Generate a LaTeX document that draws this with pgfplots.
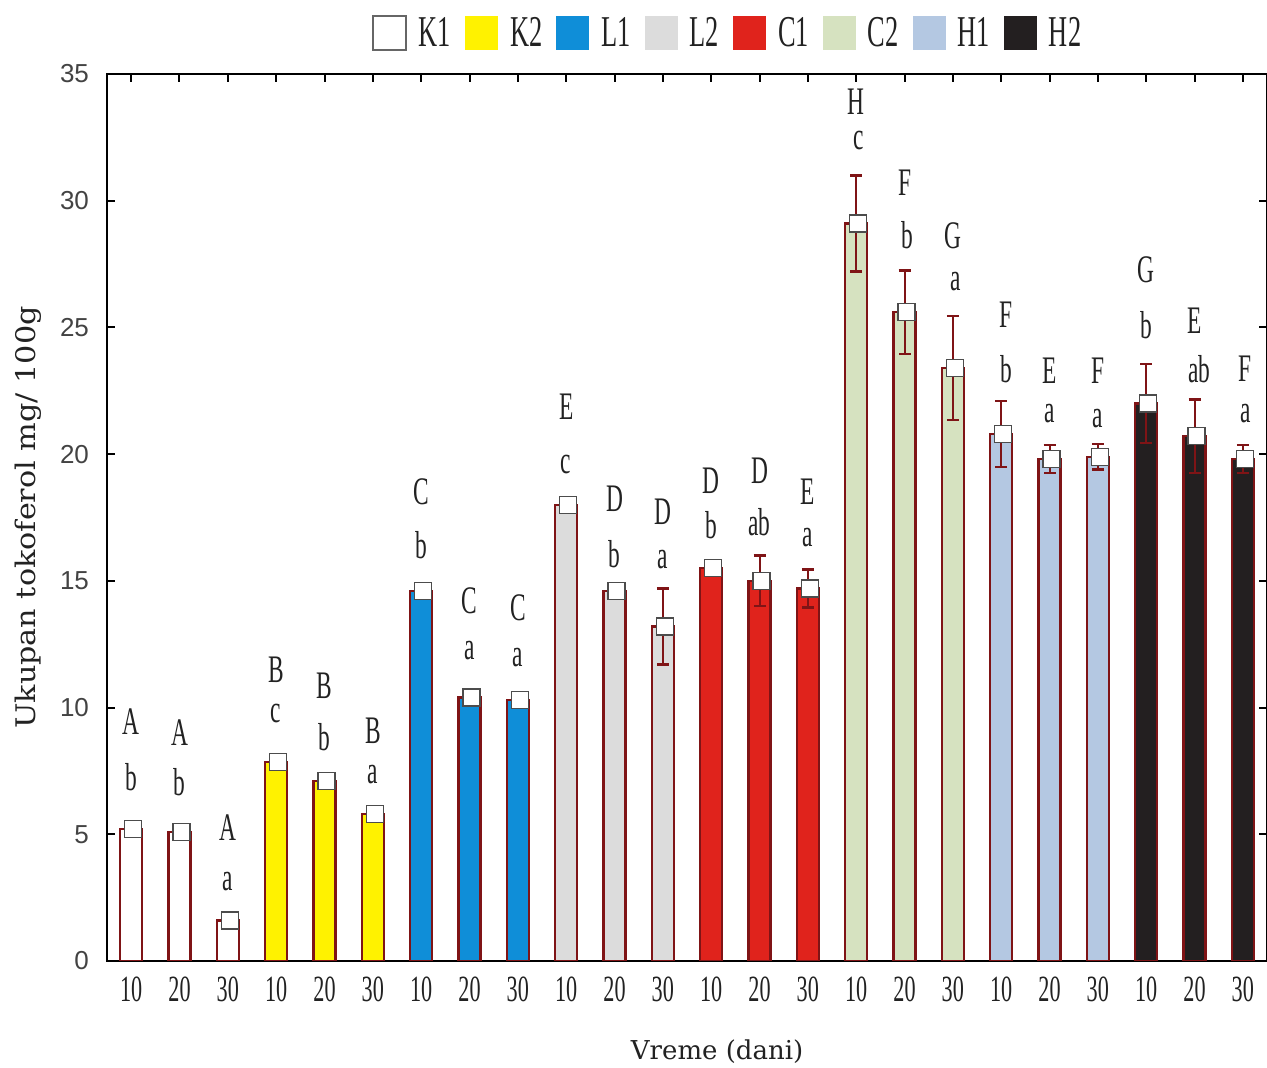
\documentclass[border=0pt]{standalone}
\usepackage{pgfplots}
\pgfplotsset{compat=1.18}
\usepackage{fontspec}
\setmainfont{Liberation Serif}
\newfontfamily\cond[FakeStretch=0.6]{Liberation Serif}
\newfontfamily\labfont{DejaVu Serif}
\newfontfamily\ylabfont[FakeStretch=1.12]{DejaVu Serif}
\newfontfamily\yfont{Liberation Sans}
\definecolor{bord}{HTML}{7F1416}
\definecolor{cK2}{HTML}{FFF200}
\definecolor{cL1}{HTML}{0F8ED8}
\definecolor{cL2}{HTML}{DCDCDC}
\definecolor{cC1}{HTML}{E0231C}
\definecolor{cC2}{HTML}{D6E2C0}
\definecolor{cH1}{HTML}{B4C8E2}
\definecolor{cH2}{HTML}{231F20}
\definecolor{txt}{HTML}{222222}
\pgfplotsset{
  legbox/.style={legend image code/.code={\path[draw=none, fill=#1] (0pt,-8.5pt) rectangle (16.5pt,8.5pt);}},
  barst/.style={ybar, bar width=11pt, bar shift=0pt, draw=bord, line width=1.1pt, fill=#1},
}
\tikzset{lab/.style={font={\cond\fontsize{19.5pt}{20pt}\selectfont}, text=txt, inner sep=0pt}}
\begin{document}
\begin{tikzpicture}
\begin{axis}[
  scale only axis, width=580pt, height=443.5pt,
  xmin=-0.5, xmax=23.5, ymin=0, ymax=35,
  axis line style={line width=1pt},
  tick align=inside, tick style={black, line width=1pt},
  major tick length=4pt,
  xtick={0,...,23},
  xticklabels={10,20,30,10,20,30,10,20,30,10,20,30,10,20,30,10,20,30,10,20,30,10,20,30},
  ytick={0,5,...,35},
  xticklabel style={font={\cond\fontsize{18.5pt}{19pt}\selectfont}, text=txt, yshift=-4.5pt},
  yticklabel style={font={\yfont\fontsize{13pt}{14pt}\selectfont}, text=txt!85, xshift=-5.5pt},
  /pgf/number format/assume math mode=true,
  xlabel={Vreme (dani)},
  ylabel={Ukupan tokoferol mg/ 100g},
  every axis x label/.style={at={(rel axis cs:0.526,0)}, yshift=-45.5pt, anchor=center, font={\labfont\fontsize{13pt}{14pt}\selectfont}, text=txt},
  every axis y label/.style={at={(rel axis cs:0,0.5)}, xshift=-39.5pt, rotate=90, anchor=center, font={\ylabfont\fontsize{13.5pt}{14pt}\selectfont}, text=txt},
  legend columns=-1,
  legend style={at={(0.536,1.046)}, anchor=center, draw=none, fill=none,
    font={\cond\fontsize{22pt}{23pt}\selectfont}, text=txt,
    /tikz/every even column/.append style={column sep=5pt},
    /tikz/every odd column/.append style={column sep=4pt}},
]
\addplot[barst=white, legend image code/.code={\draw[black!60, line width=0.8pt, fill=white] (0pt,-8.5pt) rectangle (16.5pt,8.5pt);}] coordinates {(0,5.2) (1,5.1) (2,1.6)};
\addlegendentry{K1}
\addplot[barst=cK2, legbox=cK2] coordinates {(3,7.85) (4,7.1) (5,5.8)};
\addlegendentry{K2}
\addplot[barst=cL1, legbox=cL1] coordinates {(6,14.6) (7,10.4) (8,10.3)};
\addlegendentry{L1}
\addplot[barst=cL2, legbox=cL2] coordinates {(9,18.0) (10,14.6) (11,13.2)};
\addlegendentry{L2}
\addplot[barst=cC1, legbox=cC1] coordinates {(12,15.5) (13,15.0) (14,14.7)};
\addlegendentry{C1}
\addplot[barst=cC2, legbox=cC2] coordinates {(15,29.1) (16,25.6) (17,23.4)};
\addlegendentry{C2}
\addplot[barst=cH1, legbox=cH1] coordinates {(18,20.8) (19,19.8) (20,19.9)};
\addlegendentry{H1}
\addplot[barst=cH2, legbox=cH2] coordinates {(21,22.0) (22,20.7) (23,19.8)};
\addlegendentry{H2}
\addplot[only marks, mark=square*, mark size=4.25pt,
  mark options={fill=white, draw=black!70, line width=0.6pt, xshift=1pt},
  forget plot,
  error bars/.cd, y dir=both, y explicit,
  error bar style={bord, line width=1pt},
  error mark options={rotate=90, bord, line width=1.2pt, mark size=3pt}]
  table[x=x, y=y, y error=e] {
x y e
0 5.2 0.3
1 5.1 0.15
2 1.6 0.1
3 7.85 0.2
4 7.1 0.15
5 5.8 0.05
6 14.6 0.1
7 10.4 0.1
8 10.3 0.2
9 18.0 0.1
10 14.6 0.15
11 13.2 1.5
12 15.5 0.3
13 15.0 1.0
14 14.7 0.75
15 29.1 1.9
16 25.6 1.65
17 23.4 2.05
18 20.8 1.3
19 19.8 0.55
20 19.9 0.5
21 22.0 1.55
22 20.7 1.45
23 19.8 0.55
};
% group letters
\node[lab] at (axis cs:0,9.45) {A};   \node[lab] at (axis cs:0,7.27) {b};
\node[lab] at (axis cs:1,9.01) {A};   \node[lab] at (axis cs:1,7.04) {b};
\node[lab] at (axis cs:2,5.26) {A};   \node[lab] at (axis cs:2,3.12) {a};
\node[lab] at (axis cs:3,11.50) {B};  \node[lab] at (axis cs:3,9.76) {c};
\node[lab] at (axis cs:4,10.87) {B};  \node[lab] at (axis cs:4,8.85) {b};
\node[lab] at (axis cs:5,9.09) {B};   \node[lab] at (axis cs:5,7.35) {a};
\node[lab] at (axis cs:6,18.50) {C};  \node[lab] at (axis cs:6,16.40) {b};
\node[lab] at (axis cs:7,14.23) {C};  \node[lab] at (axis cs:7,12.25) {a};
\node[lab] at (axis cs:8,13.95) {C};  \node[lab] at (axis cs:8,11.98) {a};
\node[lab] at (axis cs:9,21.86) {E};  \node[lab] at (axis cs:9,19.60) {c};
\node[lab] at (axis cs:10,18.22) {D}; \node[lab] at (axis cs:10,16.05) {b};
\node[lab] at (axis cs:11,17.71) {D}; \node[lab] at (axis cs:11,15.85) {a};
\node[lab] at (axis cs:12,18.93) {D}; \node[lab] at (axis cs:12,17.19) {b};
\node[lab] at (axis cs:13,19.33) {D}; \node[lab] at (axis cs:13,17.31) {ab};
\node[lab] at (axis cs:14,18.50) {E}; \node[lab] at (axis cs:14,16.72) {a};
\node[lab] at (axis cs:15,33.91) {H}; \node[lab] at (axis cs:15.05,32.37) {c};
\node[lab] at (axis cs:16,30.71) {F}; \node[lab] at (axis cs:16.05,28.66) {b};
\node[lab] at (axis cs:17,28.62) {G}; \node[lab] at (axis cs:17.05,26.80) {a};
\node[lab] at (axis cs:18.1,25.49) {F}; \node[lab] at (axis cs:18.1,23.36) {b};
\node[lab] at (axis cs:19,23.28) {E}; \node[lab] at (axis cs:19,21.62) {a};
\node[lab] at (axis cs:20,23.28) {F}; \node[lab] at (axis cs:20,21.42) {a};
\node[lab] at (axis cs:21,27.27) {G}; \node[lab] at (axis cs:21,25.10) {b};
\node[lab] at (axis cs:22,25.26) {E}; \node[lab] at (axis cs:22.1,23.36) {ab};
\node[lab] at (axis cs:23.05,23.36) {F}; \node[lab] at (axis cs:23.05,21.62) {a};
\end{axis}
\pgfresetboundingbox
\path ([xshift=-53.5pt,yshift=-53.5pt]current axis.south west) rectangle ([yshift=37pt]current axis.north east);
\end{tikzpicture}
\end{document}
